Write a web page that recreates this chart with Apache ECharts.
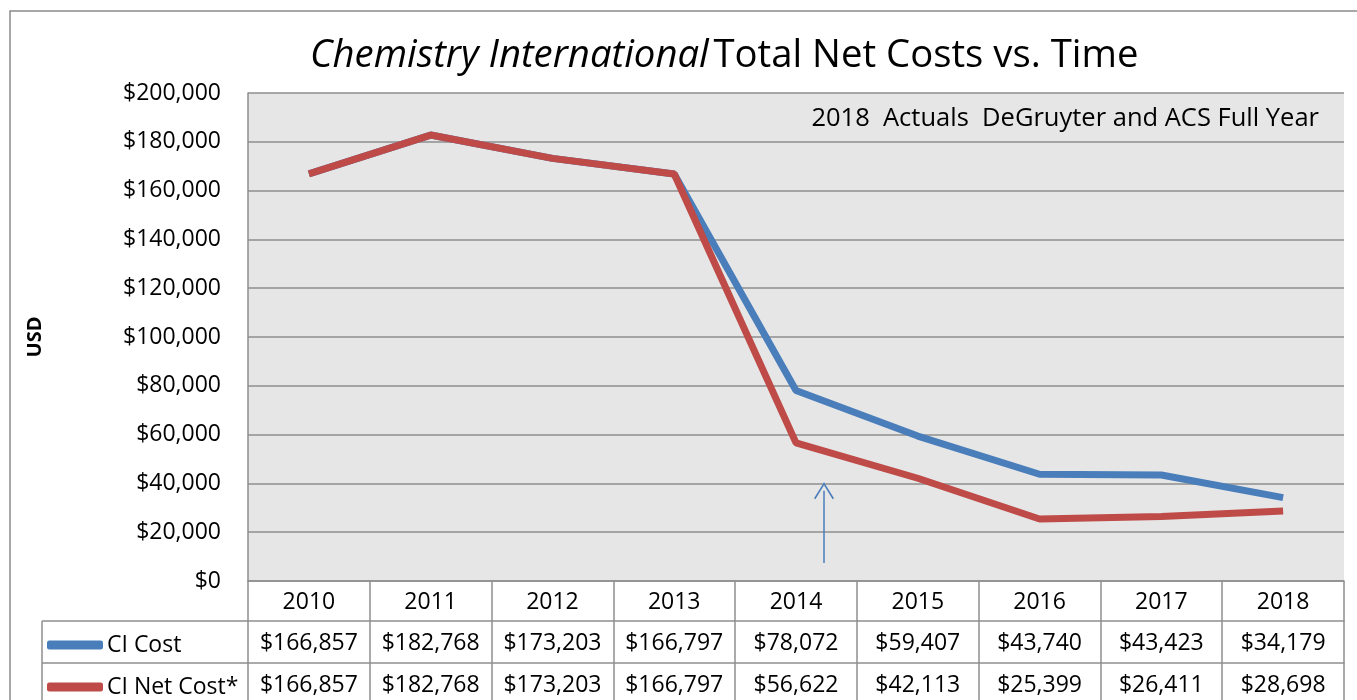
<!DOCTYPE html>
<html>
<head>
<meta charset="utf-8">
<script src="https://cdn.jsdelivr.net/npm/echarts@6/dist/echarts.min.js"></script>
<style>
  html, body { margin: 0; padding: 0; background: #fff; }
  #main { width: 1357px; height: 700px; }
</style>
</head>
<body>
<div id="main"></div>
<script>
// chart data
var years = ['2010', '2011', '2012', '2013', '2014', '2015', '2016', '2017', '2018'];
var ciCost = [166857, 182768, 173203, 166797, 78072, 59407, 43740, 43423, 34179];
var ciNetCost = [166857, 182768, 173203, 166797, 56622, 42113, 25399, 26411, 28698];
var yTicks = [0, 200000, 20000]; // min, max, step
var arrowX = 4.23;            // category index, a bit right of 2014
var arrowRange = [7400, 37000];

var FONT = '"Open Sans", "Noto Sans", sans-serif';
var GRID_C = '#8e8e8e';
var ARROW_HEAD = 'path://M10,0 L20,16 L18.6,17 L10,3 L1.4,17 L0,16 Z';

function money(v) {
  return '$' + v.toString().replace(/\B(?=(\d{3})+(?!\d))/g, ',');
}

var chart = echarts.init(document.getElementById('main'));

var option = {
  backgroundColor: '#fff',
  textStyle: { fontFamily: FONT },
  title: {
    left: 305,
    top: 32,
    text: '{i|Chemistry International} {n|Total Net Costs vs. Time}',
    textStyle: {
      fontWeight: 'normal',
      rich: {
        i: { fontFamily: FONT, fontSize: 38.3, fontStyle: 'italic', fontWeight: 'normal', color: '#000' },
        n: { fontFamily: FONT, fontSize: 38.3, fontWeight: 'normal', color: '#000' }
      }
    }
  },
  legend: {
    orient: 'vertical',
    left: 47,
    top: 632,
    padding: 0,
    itemGap: 16,
    itemWidth: 56,
    itemHeight: 9,
    icon: 'roundRect',
    textStyle: { fontSize: 23, color: '#000', lineHeight: 26, padding: [0, 0, 0, -1] },
    data: ['CI Cost', 'CI Net Cost*']
  },
  grid: {
    left: 248,
    right: 13,
    top: 93,
    bottom: 119,
    show: true,
    backgroundColor: '#e6e6e6',
    borderWidth: 0
  },
  xAxis: [
    {
      type: 'category',
      data: years,
      position: 'bottom',
      axisLine: { show: true, lineStyle: { color: GRID_C, width: 1.5 } },
      axisTick: { show: true, length: 120, interval: 0, lineStyle: { color: GRID_C, width: 1.5 } },
      axisLabel: { fontSize: 23, color: '#000', margin: 10, interval: 0 }
    },
    {
      type: 'category',
      data: years,
      position: 'bottom',
      offset: 40,
      axisLine: { show: true, lineStyle: { color: GRID_C, width: 1.5 } },
      axisTick: { show: false },
      axisLabel: {
        fontSize: 23, color: '#000', margin: 11, interval: 0,
        formatter: function (v, i) { return money(ciCost[i]); }
      }
    },
    {
      type: 'category',
      data: years,
      position: 'bottom',
      offset: 82,
      axisLine: { show: true, lineStyle: { color: GRID_C, width: 1.5 } },
      axisTick: { show: false },
      axisLabel: {
        fontSize: 23, color: '#000', margin: 11, interval: 0,
        formatter: function (v, i) { return money(ciNetCost[i]); }
      }
    },
    {
      // hidden numeric axis over the same categories, for the arrow
      type: 'value',
      show: false,
      min: -0.5,
      max: years.length - 0.5
    }
  ],
  yAxis: {
    type: 'value',
    min: yTicks[0],
    max: yTicks[1],
    interval: yTicks[2],
    name: 'USD',
    nameLocation: 'middle',
    nameGap: 203,
    nameTextStyle: { fontSize: 20, fontWeight: 'bold', color: '#000' },
    axisLine: { show: true, onZero: false, lineStyle: { color: GRID_C, width: 1.5 } },
    axisTick: { show: false },
    splitLine: { lineStyle: { color: GRID_C, width: 1.5 } },
    axisLabel: { fontSize: 23, color: '#000', margin: 27, formatter: money }
  },
  series: [
    {
      name: 'CI Cost',
      type: 'line',
      data: ciCost,
      showSymbol: false,
      color: '#4a7ebb',
      lineStyle: { width: 7, color: '#4a7ebb' }
    },
    {
      name: 'CI Net Cost*',
      type: 'line',
      data: ciNetCost,
      showSymbol: false,
      color: '#be4b48',
      lineStyle: { width: 7, color: '#be4b48' }
    },
    {
      name: 'arrow',
      type: 'line',
      xAxisIndex: 3,
      silent: true,
      symbol: 'none',
      color: '#4a7ebb',
      lineStyle: { width: 1.5, color: '#4a7ebb' },
      itemStyle: { color: '#4a7ebb' },
      data: [
        [arrowX, arrowRange[0]],
        { value: [arrowX, arrowRange[1]], symbol: ARROW_HEAD, symbolSize: [20, 17] }
      ]
    }
  ],
  graphic: [
    {
      type: 'rect',
      shape: { x: 10, y: 11, width: 1400, height: 800 },
      style: { fill: 'none', stroke: '#8a8a8a', lineWidth: 1.5 },
      z: -1
    },
    { type: 'line', shape: { x1: 42, y1: 621, x2: 248, y2: 621 }, style: { stroke: GRID_C, lineWidth: 1.5 } },
    { type: 'line', shape: { x1: 42, y1: 663, x2: 248, y2: 663 }, style: { stroke: GRID_C, lineWidth: 1.5 } },
    { type: 'line', shape: { x1: 42, y1: 621, x2: 42, y2: 700 }, style: { stroke: GRID_C, lineWidth: 1.5 } },
    {
      type: 'text',
      right: 38,
      top: 106,
      style: { text: '2018  Actuals  DeGruyter and ACS Full Year', fontSize: 25.5, fontFamily: FONT, fill: '#000' }
    }
  ]
};

chart.setOption(option);
</script>
</body>
</html>
